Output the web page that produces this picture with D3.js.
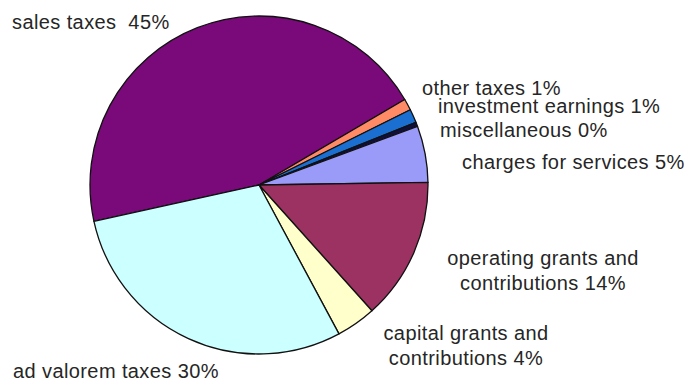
<!DOCTYPE html>
<html>
<head>
<meta charset="utf-8">
<script src="https://cdn.jsdelivr.net/npm/d3@7"></script>
<style>
  html, body { margin: 0; padding: 0; background: #fff; }
  svg text { font-family: "Liberation Sans", Arial, sans-serif; fill: #262626; white-space: pre; }
</style>
</head>
<body>
<svg id="chart" width="691" height="381"></svg>
<script>
// Revenue sources pie (Excel-style, labels placed by hand around the pie)

const categories = [
  'sales taxes', 'other taxes', 'investment earnings', 'miscellaneous',
  'charges for services', 'operating grants and contributions',
  'capital grants and contributions', 'ad valorem taxes'
];
const shares = [45.0, 1.1, 1.3, 0.4, 5.4, 13.6, 3.8, 29.4];
const labelText = [
  ['sales taxes  45%'], ['other taxes 1%'], ['investment earnings 1%'], ['miscellaneous 0%'],
  ['charges for services 5%'], ['operating grants and', 'contributions 14%'],
  ['capital grants and', 'contributions 4%'], ['ad valorem taxes 30%']
];
const colors = ['#7a0a7a', '#ff8a66', '#1a6fd0', '#101040', '#9a9af8', '#9c3262', '#ffffcc', '#ccffff'];

// label layout (x, first baseline, anchor)
const labelPos = [
  [12, 29, 'start'], [422, 95, 'start'], [438, 113, 'start'], [440, 137, 'start'],
  [462, 169, 'start'], [543, 265, 'middle'], [466, 340, 'middle'], [13, 378, 'start']
];

const cx = 259, cy = 185, radius = 169;
const startDeg = -102.4;

const svg = d3.select('#chart');
const g = svg.append('g').attr('transform', `translate(${cx},${cy})`);

const pie = d3.pie()
  .sort(null)
  .value(d => d)
  .startAngle(startDeg * Math.PI / 180)
  .endAngle(startDeg * Math.PI / 180 + 2 * Math.PI);

const arc = d3.arc().innerRadius(0).outerRadius(radius);

g.selectAll('path.slice')
  .data(pie(shares))
  .join('path')
  .attr('class', 'slice')
  .attr('d', arc)
  .attr('fill', (d, i) => colors[i])
  .attr('stroke', '#111')
  .attr('stroke-width', 1.3)
  .attr('stroke-linejoin', 'round');

const labels = svg.selectAll('text.lbl')
  .data(categories)
  .join('text')
  .attr('class', 'lbl')
  .attr('x', (d, i) => labelPos[i][0])
  .attr('y', (d, i) => labelPos[i][1])
  .attr('text-anchor', (d, i) => labelPos[i][2])
  .attr('font-size', '20px')
  .attr('letter-spacing', '0.4px');

labels.each(function (d, i) {
  const t = d3.select(this);
  labelText[i].forEach((line, k) => {
    t.append('tspan')
      .attr('x', labelPos[i][0])
      .attr('dy', k === 0 ? 0 : 25)
      .text(line);
  });
});
</script>
</body>
</html>
